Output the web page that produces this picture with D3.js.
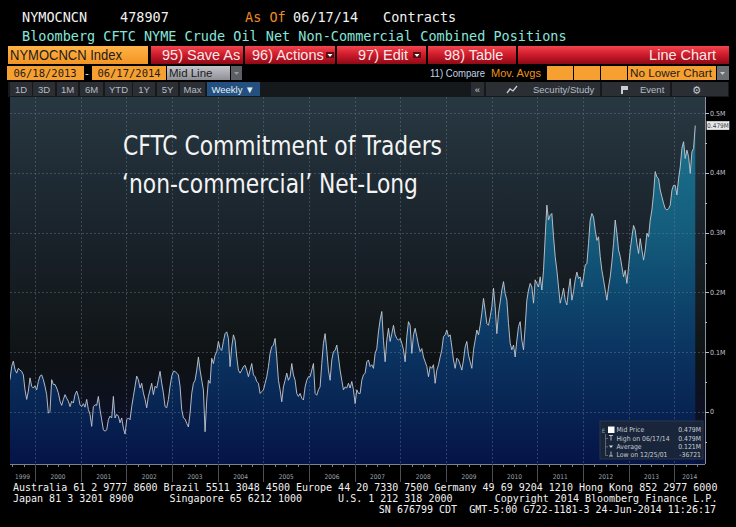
<!DOCTYPE html>
<html>
<head>
<meta charset="utf-8">
<style>
  body { margin: 0; background: #000; }
  svg { display: block; }
  .mono { font-family: "DejaVu Sans Mono", monospace; }
  .sans { font-family: "Liberation Sans", Arial, sans-serif; }
  .cond { font-family: "DejaVu Sans Condensed", "DejaVu Sans", sans-serif; }
</style>
</head>
<body>
<svg width="736" height="527"></svg>

<script src="https://cdn.jsdelivr.net/npm/d3@7/dist/d3.min.js"></script>
<script>
// net long positions, thousands of contracts (about two weeks apart)
var v1999 = [54,76,85,71,65,73,70,68,62,37,21,35,57,43,40];
var v2000 = [44,37,51,60,62,54,43,29,-2,1,54,46,46,40,32,18,11,21,29,23,18,9,18,15,29,35,26,12];
var v2001 = [9,14,8,21,4,-4,-24,9,12,11,26,4,-13,-30,-32,-30,-13,-7,-10,26,-10,-4,-7,-18,-10,-27,-37];
var v2002 = [-13,-10,-13,9,26,43,60,54,40,48,32,21,7,26,37,48,29,43,40,54,68,48,32,9,7,21,43,60];
var v2003 = [68,68,65,62,43,4,-10,-12,-19,-25,-2,31,48,53,70,92,70,53,37,-33,20,53,48,90,81,95,101];
var v2004 = [118,106,103,118,131,134,123,76,109,129,120,92,70,65,70,76,78,70,59,70,81,62,59,51,48,31,34];
var v2005 = [37,48,59,76,98,109,112,123,92,53,37,17,42,53,65,53,59,81,62,53,31,26,31,23,20,42,53,59];
var v2006 = [59,70,81,31,28,37,42,81,115,131,103,70,53,87,101,103,112,92,70,53,37,42,40,48,40,51,37];
var v2007 = [14,37,31,31,53,62,65,84,87,76,79,73,98,106,134,154,168,120,84,120,140,118,131,145,129,123,120,123];
var v2008 = [115,104,84,126,151,145,98,129,140,126,112,101,106,92,84,76,59,76,73,79,48,70,79,92,104,126,129];
var v2009 = [137,126,129,109,87,73,90,87,79,70,87,109,118,95,84,73,104,120,137,129,145,165,190,170,148,145,159,176];
var v2010 = [207,176,131,165,184,204,218,198,187,148,115,104,112,92,120,143,151,120,104,143,187,204,215,209,182,221,215];
var v2011 = [209,226,204,237,293,346,321,329,332,293,260,237,209,182,193,207,187,179,204,223,187,201,221,234,223,226,209];
var v2012 = [226,246,248,282,321,332,326,304,287,293,260,237,221,204,187,209,226,251,282,321,299,271,260,243,226,237,215,243];
var v2013 = [271,293,312,304,282,265,290,271,254,271,299,293,321,338,365,402,393,390,371,360,349,340,338,340,346,371,379];
var v2014 = [379,363,390,410,441,452,424,438,427,399,435,441,479];

var firstDate = new Date(1999, 5, 14);
var lastDate = new Date(2014, 5, 17);
var axisEnd = new Date(2014, 8, 3);

var yTicks = [0, 100000, 200000, 300000, 400000, 500000];
var yTickLabels = ["0", "0.1M", "0.2M", "0.3M", "0.4M", "0.5M"];
var lastLabel = "0.479M";

var legendNames = ["Mid Price", "High on 06/17/14", "Average", "Low on 12/25/01"];
var legendValues = ["0.479M", "0.479M", "0.121M", "-36721"];

var rangeButtons = ["1D", "3D", "1M", "6M", "YTD", "1Y", "5Y", "Max"];

var footer1 = "Australia 61 2 9777 8600 Brazil 5511 3048 4500 Europe 44 20 7330 7500 Germany 49 69 9204 1210 Hong Kong 852 2977 6000";
var footer2 = "Japan 81 3 3201 8900      Singapore 65 6212 1000      U.S. 1 212 318 2000       Copyright 2014 Bloomberg Finance L.P.";
var footer3 = "SN 676799 CDT  GMT-5:00 G722-1181-3 24-Jun-2014 11:26:17";

// ---------------------------------------------------------------
var values = [].concat(v1999, v2000, v2001, v2002, v2003, v2004, v2005, v2006,
                       v2007, v2008, v2009, v2010, v2011, v2012, v2013, v2014);
var when = d3.scaleLinear().domain([0, values.length - 1]).range([+firstDate, +lastDate]);
var data = values.map(function(v, i) { return { date: new Date(when(i)), value: v * 1000 }; });

var svg = d3.select("svg");
var defs = svg.append("defs");

svg.append("rect").attr("width", 736).attr("height", 527).attr("fill", "#000");

function gradient(id, stops, y1, y2) {
    var g = defs.append("linearGradient").attr("id", id)
        .attr("gradientUnits", "userSpaceOnUse")
        .attr("x1", 0).attr("x2", 0).attr("y1", y1).attr("y2", y2);
    stops.forEach(function(s) {
        g.append("stop").attr("offset", s[0]).attr("stop-color", s[1]);
    });
}

function text(x, y, s, cls, size, fill, anchor) {
    return svg.append("text").attr("class", cls)
        .attr("x", x).attr("y", y)
        .style("font-size", size + "px")
        .style("white-space", "pre")
        .attr("fill", fill)
        .attr("text-anchor", anchor || "start")
        .text(s);
}

// ---- header --------------------------------------------------
text(22, 22, "NYMOCNCN", "mono", 13.5, "#f2f2f2");
text(120, 22, "478907", "mono", 13.5, "#f2f2f2");
text(245, 22, "As Of", "mono", 13.5, "#ee8a22");
text(293, 22, "06/17/14", "mono", 13.5, "#f2f2f2");
text(383, 22, "Contracts", "mono", 13.5, "#f2f2f2");
text(22, 41, "Bloomberg CFTC NYME Crude Oil Net Non-Commercial Combined Positions", "mono", 13.5, "#86e6dc");

gradient("redBar", [[0, "#f04650"], [0.45, "#d21c2c"], [1, "#8e0a16"]], 46, 64);
gradient("orangeBox", [[0, "#ffb347"], [1, "#f39424"]], 46, 64);
gradient("grayBox", [[0, "#c4c6cc"], [1, "#8e9096"]], 66, 80);

svg.append("rect").attr("x", 8).attr("y", 46).attr("width", 140).attr("height", 18).attr("fill", "url(#orangeBox)");
text(10, 60, "NYMOCNCN Index", "sans", 15, "#1c1c1c").attr("textLength", 112).attr("lengthAdjust", "spacingAndGlyphs");

var redButtons = [[151, 243, "95) Save As", 162], [245, 335, "96) Actions", 252], [337, 426, "97) Edit", 358], [428, 516, "98) Table", 444], [518, 729, "", 0]];
redButtons.forEach(function(b) {
    svg.append("rect").attr("x", b[0]).attr("y", 46).attr("width", b[1] - b[0]).attr("height", 18).attr("fill", "url(#redBar)");
    if (b[2]) text(b[3], 60, b[2], "sans", 14.5, "#fbe9ea");
});
text(716, 60, "Line Chart", "sans", 14.5, "#fbe9ea", "end");
[[326, 52], [413, 52]].forEach(function(p) {
    svg.append("rect").attr("x", p[0]).attr("y", p[1]).attr("width", 8).attr("height", 6).attr("fill", "#5a0c12");
    svg.append("path").attr("d", "M" + (p[0] + 1.5) + "," + (p[1] + 2) + "h5l-2.5,3z").attr("fill", "#fff");
});

// row 4
svg.append("rect").attr("x", 7).attr("y", 66).attr("width", 77).attr("height", 14).attr("fill", "#f7a032");
text(45, 77, "06/18/2013", "mono", 10.5, "#1c1c1c", "middle");
text(87, 77, "-", "mono", 10.5, "#f0f0f0", "middle");
svg.append("rect").attr("x", 92).attr("y", 66).attr("width", 74).attr("height", 14).attr("fill", "#f7a032");
text(129, 77, "06/17/2014", "mono", 10.5, "#1c1c1c", "middle");
svg.append("rect").attr("x", 167).attr("y", 66).attr("width", 63).attr("height", 14).attr("fill", "url(#grayBox)");
text(169, 77, "Mid Line", "sans", 11.5, "#1c1c1c");
svg.append("rect").attr("x", 231).attr("y", 66).attr("width", 11).attr("height", 14).attr("fill", "#5c5f64");
svg.append("path").attr("d", "M234,72h5l-2.5,3z").attr("fill", "#9a9da2");

text(430, 77, "11) Compare", "sans", 11, "#c4d2ea").attr("textLength", 55).attr("lengthAdjust", "spacingAndGlyphs");
text(491, 77, "Mov. Avgs", "sans", 11, "#ea921e").attr("textLength", 50).attr("lengthAdjust", "spacingAndGlyphs");
[[547, 573], [574, 600], [601, 627], [628, 716]].forEach(function(b) {
    svg.append("rect").attr("x", b[0]).attr("y", 66).attr("width", b[1] - b[0]).attr("height", 14).attr("fill", "#f7a032");
});
text(630, 77, "No Lower Chart", "sans", 11.5, "#1c1c1c").attr("textLength", 82).attr("lengthAdjust", "spacingAndGlyphs");
svg.append("rect").attr("x", 717).attr("y", 66).attr("width", 12).attr("height", 14).attr("fill", "#6a6d72");
svg.append("path").attr("d", "M720,72h5l-2.5,3z").attr("fill", "#c8c8c8");

// row 5
svg.append("rect").attr("x", 8).attr("y", 82).attr("width", 721).attr("height", 15).attr("fill", "#16191c");
var btnX = [[10, 32], [33, 55], [57, 78], [80, 103], [105, 132], [133, 155], [157, 178], [180, 205]];
rangeButtons.forEach(function(s, i) {
    var b = btnX[i];
    svg.append("rect").attr("x", b[0]).attr("y", 82).attr("width", b[1] - b[0]).attr("height", 14).attr("fill", "#2b2f34");
    text((b[0] + b[1]) / 2, 93, s, "sans", 9.5, "#b4bcc6", "middle");
});
svg.append("rect").attr("x", 207).attr("y", 82).attr("width", 53).attr("height", 14).attr("fill", "#23507e");
text(233, 93, "Weekly \u25BC", "sans", 9.5, "#e8eef6", "middle");
[[471, 484], [486, 600], [602, 670], [672, 728]].forEach(function(b) {
    svg.append("rect").attr("x", b[0]).attr("y", 82).attr("width", b[1] - b[0]).attr("height", 14).attr("fill", "#2b2f34");
});
text(477.5, 93, "\u00AB", "sans", 9.5, "#c8ced6", "middle");
svg.append("path").attr("d", "M507,93l3,-4l3,2l4,-5").attr("fill", "none").attr("stroke", "#c8ced6").attr("stroke-width", 1.3);
text(533, 93, "Security/Study", "sans", 9.5, "#b4bcc6");
svg.append("path").attr("d", "M621,86h7v4h-5v4h-2z").attr("fill", "#c8ced6");
text(640, 93, "Event", "sans", 9.5, "#b4bcc6");
text(697, 94, "\u2699", "cond", 11, "#c8ced6", "middle");

// ---- chart ---------------------------------------------------
var pLeft = 10, pRight = 705, pTop = 97, pBottom = 464;

var x = d3.scaleTime().domain([firstDate, axisEnd]).range([pLeft, pRight]);
var y = d3.scaleLinear().domain([-87000, 526800]).range([pBottom, pTop]);

gradient("plotBg", [[0, "#283842"], [0.22, "#1f2b34"], [0.42, "#182028"], [0.58, "#141a1d"], [0.72, "#0e1214"],
                    [0.86, "#0c1024"], [1, "#07123e"]], pTop, pBottom);
gradient("areaFill", [[0, "#20809c"], [0.15, "#1a6e8a"], [0.37, "#145c7c"], [0.53, "#0e486e"], [0.67, "#0b3663"],
                      [0.83, "#082654"], [1, "#041446"]], pTop, pBottom);

defs.append("clipPath").attr("id", "plotClip")
    .append("rect").attr("x", pLeft).attr("y", pTop).attr("width", pRight - pLeft).attr("height", pBottom - pTop);

svg.append("rect").attr("x", pLeft).attr("y", pTop).attr("width", pRight - pLeft).attr("height", pBottom - pTop)
    .attr("fill", "url(#plotBg)");

var plot = svg.append("g").attr("clip-path", "url(#plotClip)");

plot.append("path").datum(data)
    .attr("fill", "url(#areaFill)")
    .attr("d", d3.area().x(function(d) { return x(d.date); }).y0(pBottom).y1(function(d) { return y(d.value); }));

// grid
var yearStarts = d3.timeYear.range(d3.timeYear.ceil(firstDate), axisEnd);
plot.append("g").selectAll("line").data(yearStarts).join("line")
    .attr("x1", function(d) { return Math.round(x(d)) + 0.5; })
    .attr("x2", function(d) { return Math.round(x(d)) + 0.5; })
    .attr("y1", pTop).attr("y2", pBottom)
    .attr("stroke", "#6a7784").attr("stroke-opacity", 0.45).attr("stroke-dasharray", "2,2");
plot.append("g").selectAll("line").data(yTicks).join("line")
    .attr("x1", pLeft).attr("x2", pRight)
    .attr("y1", function(d) { return Math.round(y(d)) + 0.5; })
    .attr("y2", function(d) { return Math.round(y(d)) + 0.5; })
    .attr("stroke", "#6a7784").attr("stroke-opacity", 0.45).attr("stroke-dasharray", "2,2");

plot.append("path").datum(data)
    .attr("fill", "none")
    .attr("stroke", "#c4cad2")
    .attr("stroke-width", 0.9)
    .attr("stroke-linejoin", "round")
    .attr("d", d3.line().x(function(d) { return x(d.date); }).y(function(d) { return y(d.value); }));

// bottom axis
svg.append("line").attr("x1", pLeft).attr("x2", pRight).attr("y1", pBottom + 0.5).attr("y2", pBottom + 0.5)
    .attr("stroke", "#7b838c");
svg.append("g").selectAll("line").data(d3.timeMonth.every(3).range(firstDate, axisEnd)).join("line")
    .attr("x1", function(d) { return Math.round(x(d)) + 0.5; })
    .attr("x2", function(d) { return Math.round(x(d)) + 0.5; })
    .attr("y1", pBottom).attr("y2", pBottom + 3)
    .attr("stroke", "#7b838c");
svg.append("g").selectAll("line").data(yearStarts).join("line")
    .attr("x1", function(d) { return Math.round(x(d)) + 0.5; })
    .attr("x2", function(d) { return Math.round(x(d)) + 0.5; })
    .attr("y1", pBottom).attr("y2", pBottom + 18)
    .attr("stroke", "#4a5058");
var yearSpans = d3.timeYear.range(d3.timeYear.floor(firstDate), axisEnd);
svg.append("g").selectAll("text").data(yearSpans).join("text")
    .attr("class", "cond")
    .attr("x", function(d) {
        var a = Math.max(x(d), pLeft), b = Math.min(x(d3.timeYear.offset(d, 1)), pRight);
        return (a + b) / 2;
    })
    .attr("y", 479)
    .attr("text-anchor", "middle")
    .style("font-size", "6.5px")
    .attr("fill", "#9ea6ae")
    .text(function(d) { return d.getFullYear(); });

// right axis
svg.append("line").attr("x1", pRight + 0.5).attr("x2", pRight + 0.5).attr("y1", pTop).attr("y2", pBottom)
    .attr("stroke", "#8a9099");
svg.append("g").selectAll("line").data(d3.range(-50000, 550000, 50000)).join("line")
    .attr("x1", pRight).attr("x2", function(d) { return d % 100000 === 0 ? pRight + 4 : pRight + 2; })
    .attr("y1", function(d) { return Math.round(y(d)) + 0.5; })
    .attr("y2", function(d) { return Math.round(y(d)) + 0.5; })
    .attr("stroke", "#b8bec6");
svg.append("g").selectAll("text").data(yTicks).join("text")
    .attr("class", "cond")
    .attr("x", pRight + 5).attr("y", function(d) { return y(d) + 2.5; })
    .style("font-size", "7px")
    .attr("fill", "#c4c8ce")
    .text(function(d, i) { return yTickLabels[i]; });

var lastY = y(data[data.length - 1].value);
svg.append("rect").attr("x", 707).attr("y", lastY - 4).attr("width", 22).attr("height", 8)
    .attr("fill", "#e6e8ea").attr("stroke", "#ffffff").attr("stroke-width", 0.6);
text(718, lastY + 2.3, lastLabel, "cond", 6.5, "#3a3e44", "middle");

// title
text(123, 155, "CFTC Commitment of Traders", "cond", 27, "#f4f4f4").attr("textLength", 319).attr("lengthAdjust", "spacingAndGlyphs");
text(122, 193, "\u2018non-commercial\u2019 Net-Long", "cond", 27, "#f4f4f4").attr("textLength", 296).attr("lengthAdjust", "spacingAndGlyphs");

// legend
svg.append("rect").attr("x", 600).attr("y", 421).attr("width", 103).attr("height", 38)
    .attr("fill", "#1a2638").attr("fill-opacity", 0.92).attr("stroke", "#2c3848");
var legY = [430, 438.5, 446.8, 455];
svg.append("rect").attr("x", 608).attr("y", 426.5).attr("width", 6.5).attr("height", 6.5).attr("fill", "#ffffff");
text(603.5, 433, "E", "cond", 6, "#9aa2ac", "middle");
svg.append("path").attr("d", "M605.5,434V455.5H608M605.5,438.5H608M605.5,446.8H608")
    .attr("fill", "none").attr("stroke", "#8a929c").attr("stroke-width", 0.6);
svg.append("path").attr("d", "M609,435.5h4M611,435.5v5").attr("stroke", "#d8dde2").attr("stroke-width", 0.8);
svg.append("path").attr("d", "M609,445.5h4l-2,2.4z").attr("fill", "#d8dde2");
svg.append("path").attr("d", "M611,451.5v4.5M609,456h4").attr("stroke", "#d8dde2").attr("stroke-width", 0.8);
legendNames.forEach(function(s, i) {
    text(616.5, legY[i] + 2.3, s, "cond", 6.8, "#c8ccd2");
    text(701, legY[i] + 2.3, legendValues[i], "cond", 6.8, "#c8ccd2", "end");
});

// footer
text(13, 491, footer1, "mono", 10, "#f2f2f2");
text(13, 502, footer2, "mono", 10, "#f2f2f2");
text(716, 513, footer3, "mono", 10, "#f2f2f2", "end");
</script>
</body>
</html>
